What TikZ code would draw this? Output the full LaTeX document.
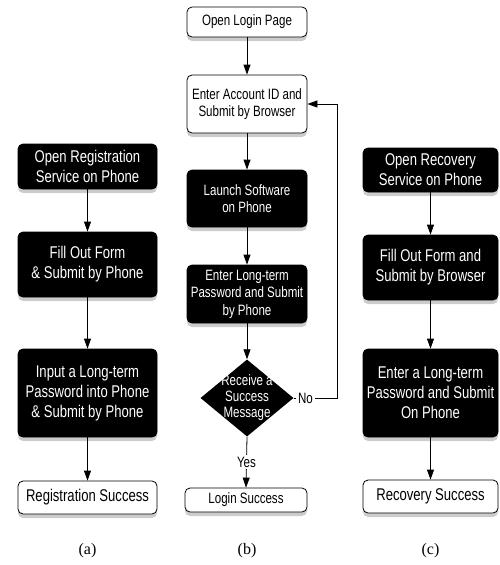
\documentclass[tikz,border=0pt]{standalone}
\usepackage{fontspec}
\setmainfont[FakeStretch=0.77]{Liberation Sans}
\newfontfamily\capfont{Liberation Serif}
\usetikzlibrary{shapes.geometric,shadows,arrows.meta}
\tikzset{
  box/.style={rectangle,rounded corners=5pt,draw=black,line width=0.8pt,
    align=center,inner sep=2pt,
    drop shadow={shadow xshift=0pt,shadow yshift=-4pt,opacity=0.4}},
  darkbox/.style={box,fill=black,text=white},
  lightbox/.style={box,fill=white},
  bigtxt/.style={font=\fontsize{17}{20}\selectfont},
  smalltxt/.style={font=\fontsize{15}{17.5}\selectfont},
  decision/.style={diamond,fill=black,minimum width=93pt,minimum height=77pt,
    inner sep=0pt},
  arr/.style={-{Triangle[length=10pt,width=7pt]},line width=0.8pt},
  lbl/.style={fill=white,inner sep=2pt,font=\fontsize{15}{17}\selectfont},
  subcap/.style={font=\capfont\fontsize{16}{18}\selectfont}
}
\begin{document}
\begin{tikzpicture}[x=1pt,y=-1pt]
  \useasboundingbox (0,0) rectangle (499,565);
  % (a) 注册
  \node[darkbox,bigtxt,minimum width=139pt,minimum height=45pt] (a1) at (87.5,166.5)
    {Open Registration\\Service on Phone};
  \node[darkbox,bigtxt,minimum width=139pt,minimum height=65pt] (a2) at (87.5,264.5)
    {Fill Out Form\\\& Submit by Phone};
  \node[darkbox,bigtxt,minimum width=139pt,minimum height=88pt] (a3) at (87.5,393)
    {Input a Long-term\\Password into Phone\\\& Submit by Phone};
  \node[lightbox,bigtxt,minimum width=139pt,minimum height=33pt] (a4) at (87.5,497.5)
    {Registration Success};
  % (b) 登录
  \node[lightbox,smalltxt,minimum width=120pt,minimum height=30pt] (b1) at (247,22)
    {Open Login Page};
  \node[lightbox,smalltxt,minimum width=120pt,minimum height=58pt] (b2) at (247,104)
    {Enter Account ID and\\Submit by Browser};
  \node[darkbox,smalltxt,minimum width=120pt,minimum height=57pt] (b3) at (247,198.5)
    {Launch Software\\on Phone};
  \node[darkbox,smalltxt,minimum width=120pt,minimum height=58pt] (b4) at (247,294)
    {Enter Long-term\\Password and Submit\\by Phone};
  \node[decision] (msg) at (247,398) {};
  \node[text=white,align=center,font=\fontsize{15}{16}\selectfont] (msgtxt) at (msg)
    {Receive a\\Success\\Message};
  \node[lightbox,smalltxt,minimum width=122pt,minimum height=24pt] (b5) at (246,500)
    {Login Success};
  % (c) 找回
  \node[darkbox,bigtxt,minimum width=135pt,minimum height=44pt] (c1) at (430.5,170)
    {Open Recovery\\Service on Phone};
  \node[darkbox,bigtxt,minimum width=135pt,minimum height=65pt] (c2) at (430.5,267.5)
    {Fill Out Form and\\Submit by Browser};
  \node[darkbox,bigtxt,minimum width=135pt,minimum height=88pt] (c3) at (430.5,393)
    {Enter a Long-term\\Password and Submit\\On Phone};
  \node[lightbox,bigtxt,minimum width=135pt,minimum height=33pt] (c4) at (430.5,496.5)
    {Recovery Success};
  % 箭头
  \foreach \u/\v in {a1/a2,a2/a3,a3/a4,b1/b2,b2/b3,b3/b4,b4/msg,c1/c2,c2/c3,c3/c4}
    \draw[arr] (\u) -- (\v);
  \draw[arr] (msg.south) -- node[lbl] {Yes} (b5.north);
  \coordinate (back) at (337,398);
  \draw[arr] (msg.east) -- node[lbl,pos=0.27] {No} (back) |- (b2.east);
  % 子图标号
  \foreach \x/\t in {87.5/a,247/b,430.5/c}
    \node[subcap] at (\x,551) {(\t)};
\end{tikzpicture}
\end{document}
